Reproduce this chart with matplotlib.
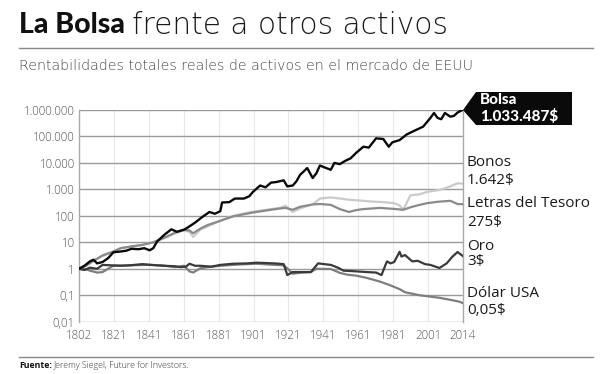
import matplotlib
matplotlib.use('Agg')
import numpy as np
import matplotlib.pyplot as plt
from matplotlib.patches import Polygon

plt.rcParams['font.family'] = ['Open Sans', 'DejaVu Sans']

# stock market (Bolsa)
bolsa_years = [1802, 1805, 1808, 1810, 1812, 1815, 1818, 1821, 1825, 1828, 1831, 1835, 1838, 1841,
               1843, 1845, 1849, 1853, 1856, 1860, 1863, 1866, 1870, 1874, 1877, 1880, 1881, 1885,
               1888, 1893, 1896, 1898, 1902, 1905, 1908, 1911, 1915, 1917, 1920, 1922, 1924, 1928,
               1931, 1933, 1935, 1937, 1941, 1943, 1946, 1949, 1952, 1955, 1959, 1962, 1966, 1970,
               1973, 1975, 1979, 1983, 1988, 1992, 1996, 1998, 2000, 2002, 2004, 2007, 2009, 2011, 2014]
bolsa = [1, 1.3, 1.9, 2.2, 1.6, 1.8, 2.5, 4.2, 4.5, 4.8, 5.7, 5.5, 6, 5,
         6, 10.5, 19, 31, 25, 30, 40, 55, 90, 140, 120, 150, 320, 330,
         450, 450, 550, 800, 1400, 1200, 1800, 1900, 2200, 1300, 1400, 2000, 3500, 6400,
         2700, 4000, 8000, 7000, 5500, 10000, 9000, 12000, 15000, 24000, 41000, 38000, 85000, 80000,
         41000, 60000, 73000, 120000, 175000, 235000, 500000, 770000, 500000, 450000, 770000, 560000,
         600000, 800000, 1033487]

bonos_years = [1802, 1806, 1810, 1815, 1821, 1825, 1831, 1837, 1843, 1850, 1855, 1860, 1863, 1865,
               1869, 1873, 1880, 1887, 1897, 1908, 1913, 1916, 1920, 1924, 1931, 1935, 1941, 1946,
               1952, 1957, 1963, 1970, 1976, 1979, 1981, 1985, 1990, 1994, 2001, 2004, 2007, 2011, 2014]
bonos = [1, 1.4, 2, 3, 4.5, 6, 7, 8, 10, 15, 22, 28, 25, 16,
         30, 40, 65, 100, 140, 180, 200, 240, 140, 190, 270, 450, 500, 450,
         400, 380, 350, 330, 300, 250, 170, 600, 650, 800, 950, 1100, 1300, 1700, 1642]

letras_years = [1802, 1806, 1810, 1815, 1821, 1825, 1831, 1837, 1843, 1850, 1855, 1860, 1863, 1865,
                1869, 1873, 1880, 1887, 1897, 1908, 1913, 1916, 1920, 1924, 1931, 1935, 1941, 1946,
                1951, 1955, 1959, 1968, 1975, 1981, 1985, 1989, 1994, 2000, 2007, 2011, 2014]
letras = [1, 1.3, 2, 3.2, 4.5, 6, 7, 8, 10, 16, 23, 30, 28, 22,
          33, 45, 65, 95, 130, 170, 190, 200, 170, 220, 270, 280, 260, 180,
          140, 165, 180, 200, 185, 170, 210, 250, 300, 340, 370, 280, 275]

oro_years = [1802, 1805, 1808, 1812, 1815, 1820, 1825, 1830, 1837, 1842, 1848, 1855, 1858, 1861,
             1863, 1866, 1869, 1875, 1880, 1887, 1895, 1900, 1905, 1910, 1915, 1917, 1920, 1925,
             1930, 1934, 1941, 1945, 1948, 1955, 1961, 1966, 1969, 1972, 1974, 1976, 1979, 1980,
             1982, 1986, 1989, 1993, 1996, 2001, 2005, 2008, 2011, 2014]
oro = [1, 0.9, 1.1, 1.0, 1.4, 1.35, 1.3, 1.35, 1.5, 1.4, 1.3, 1.25, 1.15, 1.2,
       1.55, 1.3, 1.3, 1.2, 1.4, 1.55, 1.6, 1.7, 1.65, 1.6, 1.5, 0.58, 0.75, 0.75,
       0.75, 1.6, 1.4, 1.1, 0.85, 0.8, 0.75, 0.72, 0.58, 1.9, 1.6, 1.8, 4.4, 2.9,
       3.3, 1.9, 2.0, 1.5, 1.4, 1.07, 1.6, 2.8, 4.3, 3]

dolar_years = [1802, 1805, 1808, 1812, 1815, 1818, 1821, 1830, 1840, 1848, 1855, 1860, 1863, 1865,
               1869, 1875, 1880, 1890, 1900, 1910, 1915, 1918, 1920, 1925, 1930, 1933, 1941, 1946,
               1950, 1955, 1961, 1968, 1973, 1979, 1982, 1990, 2001, 2008, 2012, 2014]
dolar = [1, 1.0, 0.85, 0.72, 0.75, 1.0, 1.3, 1.35, 1.4, 1.35, 1.15, 1.3, 0.8, 0.72,
         1.05, 1.2, 1.3, 1.45, 1.55, 1.4, 1.35, 0.9, 0.65, 0.72, 0.75, 1.0, 0.98, 0.7,
         0.6, 0.55, 0.45, 0.33, 0.25, 0.17, 0.13, 0.1, 0.08, 0.065, 0.057, 0.05]

x_tick_labels = ['1802', '1821', '1841', '1861', '1881', '1901', '1921', '1941', '1961', '1981', '2001', '2014']
y_ticks = [0.01, 0.1, 1, 10, 100, 1000, 10000, 100000, 1000000]
y_tick_labels = ['0,01', '0,1', '1', '10', '100', '1.000', '10.000', '100.000', '1.000.000']

W, H = 610, 374
fig = plt.figure(figsize=(W / 100, H / 100), dpi=100)


def fx(px):
    return px / W


def fy(py):
    return 1 - py / H


ax = fig.add_axes([fx(79), fy(321.7), fx(463) - fx(79), fy(110) - fy(321.7)])
ax.set_yscale('log')
ax.set_xlim(1802, 2014)
ax.set_ylim(0.01, 1000000)

ax.plot(bonos_years, bonos, color='#cacaca', lw=1.6, zorder=3)
ax.plot(letras_years, letras, color='#8a8a8a', lw=1.6, zorder=4)
ax.plot(dolar_years, dolar, color='#7e7e7e', lw=1.6, zorder=5)
ax.plot(oro_years, oro, color='#3a3a3a', lw=1.6, zorder=6)
ax.plot(bolsa_years, bolsa, color='#0a0a0a', lw=1.7, zorder=7)

# the year labels are spread evenly along the axis, as in the original graphic
ax.set_xticks(np.linspace(1802, 2014, len(x_tick_labels)))
ax.set_xticklabels(x_tick_labels)
ax.set_yticks(y_ticks)
ax.set_yticklabels(y_tick_labels)
ax.minorticks_off()
ax.tick_params(length=0, labelsize=8.3, labelcolor='#555555')
ax.tick_params(axis='x', pad=5)
ax.tick_params(axis='y', pad=3)
for lab in ax.get_xticklabels() + ax.get_yticklabels():
    lab.set_fontweight('light')

ax.grid(axis='y', color='#9a9a9a', lw=1.0, zorder=1)
ax.grid(axis='x', color='#e8e8e8', lw=0.8, zorder=1)
for side in ['top', 'bottom']:
    ax.spines[side].set_visible(False)
for side in ['left', 'right']:
    ax.spines[side].set_color('#aaaaaa')
    ax.spines[side].set_linewidth(1.0)

# title
t1 = fig.text(fx(19), fy(25), 'La Bolsa', fontsize=20.5, fontfamily=['Lato', 'DejaVu Sans'],
              fontweight='black', color='#111111', va='center')
fig.canvas.draw()
bb = t1.get_window_extent()
fig.text(bb.x1 / W + fx(7), fy(25), 'frente a otros activos', fontsize=21.3,
         fontfamily=['DejaVu Sans'], fontweight='light', color='#1a1a1a', va='center')
fig.add_artist(plt.Line2D([fx(19), fx(593)], [fy(48.3), fy(48.3)], color='#888888', lw=1.0))
fig.text(fx(19), fy(66), 'Rentabilidades totales reales de activos en el mercado de EEUU',
         fontsize=10.2, fontfamily=['DejaVu Sans'], fontweight='light', color='#444444', va='center')

# footer
fig.add_artist(plt.Line2D([fx(19), fx(593)], [fy(356.7), fy(356.7)], color='#888888', lw=1.0))
f1 = fig.text(fx(19), fy(365.5), 'Fuente:', fontsize=6.3, fontweight='bold', color='#111111', va='center')
fig.canvas.draw()
bb = f1.get_window_extent()
fig.text(bb.x1 / W + fx(2), fy(365.5), 'Jeremy Siegel, Future for Investors.', fontsize=6.3,
         fontweight='light', color='#333333', va='center')

# Bolsa callout
box = Polygon([(fx(463), fy(110)), (fx(476), fy(92)), (fx(572), fy(92)),
               (fx(572), fy(125)), (fx(476), fy(125))], closed=True,
              transform=fig.transFigure, facecolor='#0a0a0a', edgecolor='none')
fig.patches.append(box)
fig.text(fx(480), fy(100.5), 'Bolsa', fontsize=11, fontfamily=['Lato', 'DejaVu Sans'],
         fontweight='black', color='white', va='center')
fig.text(fx(480), fy(117), '1.033.487$', fontsize=11, fontfamily=['Lato', 'DejaVu Sans'],
         fontweight='black', color='white', va='center')

labels = [('Bonos', 163), ('1.642$', 181), ('Letras del Tesoro', 203.5), ('275$', 222.5),
          ('Oro', 247), ('3$', 262), ('Dólar USA', 293.5), ('0,05$', 310.5)]
for txt, py in labels:
    fig.text(fx(467), fy(py), txt, fontsize=11, color='#1a1a1a', va='center')

fig.savefig('out.png', dpi=100)
